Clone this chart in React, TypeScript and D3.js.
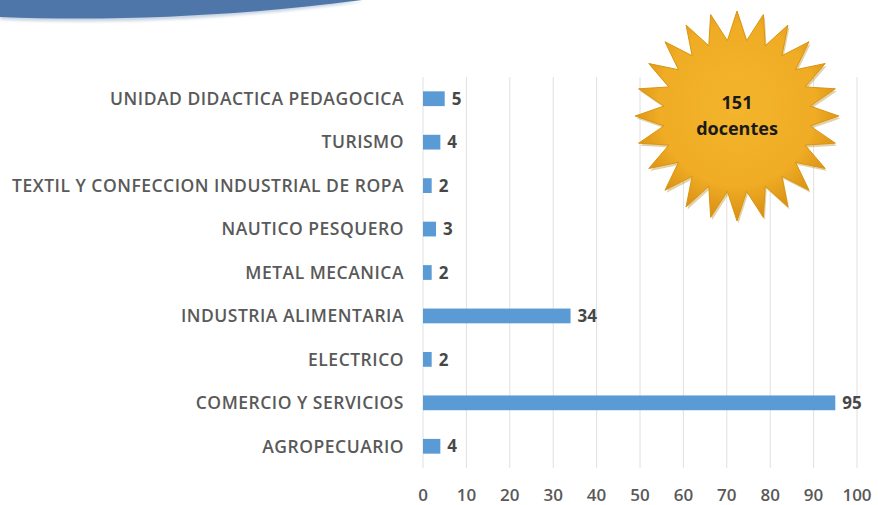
import React from "react";
import * as d3 from "d3";

const categories = [
  "UNIDAD DIDACTICA PEDAGOCICA",
  "TURISMO",
  "TEXTIL Y CONFECCION INDUSTRIAL DE ROPA",
  "NAUTICO PESQUERO",
  "METAL MECANICA",
  "INDUSTRIA ALIMENTARIA",
  "ELECTRICO",
  "COMERCIO Y SERVICIOS",
  "AGROPECUARIO",
];
const values = [5, 4, 2, 3, 2, 34, 2, 95, 4];
const xTicks = [0, 10, 20, 30, 40, 50, 60, 70, 80, 90, 100];
const badgeLines = ["151", "docentes"];

const W = 878;
const H = 505;
const FONT = "'Open Sans', 'Liberation Sans', sans-serif";

export default function App() {
  const x = d3.scaleLinear().domain([0, 100]).range([423, 857]);
  const y = d3.scaleBand<string>().domain(categories).range([77, 468]).paddingInner(0.66).paddingOuter(0.33);

  // starburst
  const cx = 737, cy = 116, rOut = 105, rIn = 76, nPts = 24;
  const starPts: [number, number][] = [];
  for (let i = 0; i < nPts * 2; i++) {
    const a = (Math.PI * i) / nPts - Math.PI / 2;
    const r = i % 2 === 0 ? rOut : rIn;
    starPts.push([Math.cos(a) * r * 0.97, Math.sin(a) * r]);
  }
  const starPath = d3.line()(starPts) + "Z";

  return (
    <div style={{ position: "fixed", left: 0, top: 0, width: W, height: H, overflow: "hidden" }}>
      <svg width={W} height={H} style={{ display: "block", background: "#fff" }}>
        <defs>
          <radialGradient id="gold" cx="50%" cy="45%" r="55%">
            <stop offset="0%" stopColor="#F3B52C" />
            <stop offset="70%" stopColor="#EFAC24" />
            <stop offset="100%" stopColor="#D88E14" />
          </radialGradient>
          <filter id="blur1" x="-10%" y="-10%" width="120%" height="140%">
            <feGaussianBlur stdDeviation="1.5" />
          </filter>
        </defs>
        {/* top swoosh */}
        <path d="M0,0 L364,0 C250,16 120,24 0,18 Z" fill="#C7D3E3" filter="url(#blur1)" transform="translate(0,1.5)" />
        <path d="M0,0 L362,0 C250,15 120,22 0,17 Z" fill="#4E76A8" />

        {/* gridlines */}
        {xTicks.map((t) => (
          <line key={t} x1={x(t)} x2={x(t)} y1={77} y2={468} stroke="#E0E0E0" strokeWidth={1} />
        ))}

        {/* bars */}
        {categories.map((c, i) => (
          <g key={c}>
            <rect x={x(0)} y={y(c)!} width={x(values[i]) - x(0)} height={y.bandwidth()} fill="#5B9BD5" />
            <text
              x={x(values[i]) + 7}
              y={y(c)! + y.bandwidth() / 2}
              dy="0.36em"
              fontFamily={FONT}
              fontWeight={700}
              fontSize={17}
              fill="#474747"
            >
              {values[i]}
            </text>
            <text
              x={404}
              y={y(c)! + y.bandwidth() / 2}
              dy="0.36em"
              textAnchor="end"
              fontFamily={FONT}
              fontWeight={600}
              fontSize={17.5}
              letterSpacing={0.5}
              fill="#595959"
            >
              {c}
            </text>
          </g>
        ))}

        {/* x tick labels */}
        {xTicks.map((t) => (
          <text
            key={t}
            x={x(t)}
            y={501}
            textAnchor="middle"
            fontFamily={FONT}
            fontSize={17}
            fontWeight={600}
            fill="#595959"
          >
            {t}
          </text>
        ))}

        {/* starburst badge */}
        <g transform={`translate(${cx},${cy})`}>
          <path d={starPath} fill="#B07A10" opacity={0.35} transform="translate(1.5,2.5)" />
          <path d={starPath} fill="url(#gold)" stroke="#D9960F" strokeWidth={1} />
          {badgeLines.map((l, i) => (
            <text
              key={l}
              x={0}
              y={-13 + i * 26}
              dy="0.36em"
              textAnchor="middle"
              fontFamily={FONT}
              fontWeight={700}
              fontSize={18}
              fill="#1a1a1a"
            >
              {l}
            </text>
          ))}
        </g>
      </svg>
    </div>
  );
}
